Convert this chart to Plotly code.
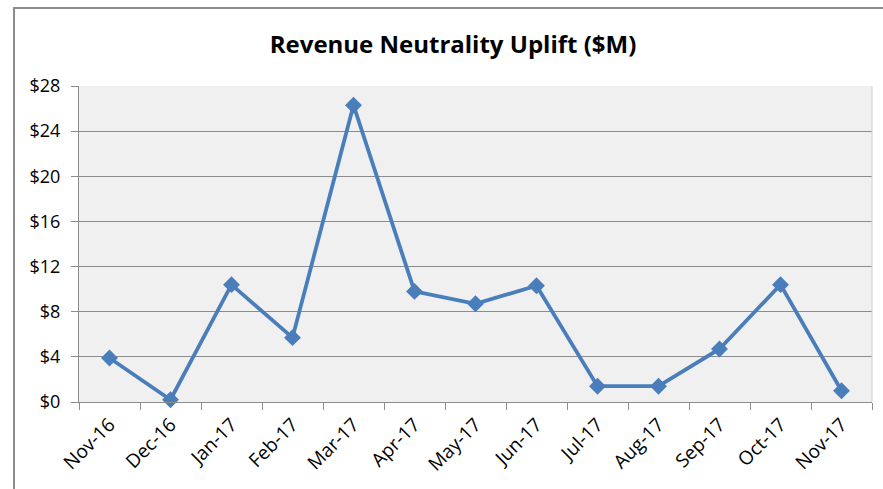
import plotly.graph_objects as go

months = ["Nov-16", "Dec-16", "Jan-17", "Feb-17", "Mar-17", "Apr-17", "May-17",
          "Jun-17", "Jul-17", "Aug-17", "Sep-17", "Oct-17", "Nov-17"]
uplift = [3.9, 0.2, 10.4, 5.7, 26.3, 9.8, 8.7, 10.3, 1.4, 1.4, 4.7, 10.4, 1.0]
y_ticks = [0, 4, 8, 12, 16, 20, 24, 28]
y_labels = ["$" + str(v) for v in y_ticks]

W, H = 883, 489
L, R, T, B = 79, 872, 86, 402

fig = go.Figure()
fig.add_trace(go.Scatter(
    x=months, y=uplift, mode="lines+markers",
    line=dict(color="#4a7ebb", width=3.8),
    marker=dict(symbol="diamond", size=13, color="#4a7ebb"),
    showlegend=False, cliponaxis=False,
))

font = "Open Sans"
fig.update_layout(
    width=W, height=H,
    margin=dict(l=L, r=W - R, t=T, b=H - B, pad=0),
    paper_bgcolor="white",
    plot_bgcolor="#f0f0f0",
    title=dict(text="<b>Revenue Neutrality Uplift ($M)</b>",
               x=(453 - L) / (R - L), xref="paper", xanchor="center",
               y=1 - 45 / H, yref="container", yanchor="middle",
               font=dict(family=font, size=24, color="#000000")),
    font=dict(family=font, size=18, color="#000000"),
    xaxis=dict(
        type="category", range=[-0.5, 12.5],
        showgrid=False, showline=True, linecolor="#8c8c8c", linewidth=1,
        ticks="outside", ticklen=7, tickcolor="#8c8c8c",
        tickson="boundaries", tickangle=-45, ticklabelstandoff=3,
        tickfont=dict(family=font, size=19, color="#000000"),
    ),
    yaxis=dict(
        range=[0, 28], tickvals=y_ticks, ticktext=y_labels,
        showgrid=True, gridcolor="#8c8c8c", gridwidth=1,
        showline=True, linecolor="#8c8c8c", linewidth=1,
        ticks="outside", ticklen=7, tickcolor="#8c8c8c",
        zeroline=False, ticklabelstandoff=7,
        tickfont=dict(family=font, size=18, color="#000000"),
    ),
    shapes=[
        dict(type="rect", xref="paper", yref="paper",
             x0=(14 - L) / (R - L), x1=1.2, y0=-0.5, y1=(B - 8) / (B - T),
             line=dict(color="#8c8c8c", width=2), fillcolor="rgba(0,0,0,0)",
             layer="below"),
        dict(type="line", xref="paper", yref="paper", x0=1, x1=1, y0=0, y1=1,
             line=dict(color="#d0d0d0", width=1)),
    ],
)

fig.write_html("out.html", config={"displayModeBar": False},
               post_script="document.body.style.margin='0';")
